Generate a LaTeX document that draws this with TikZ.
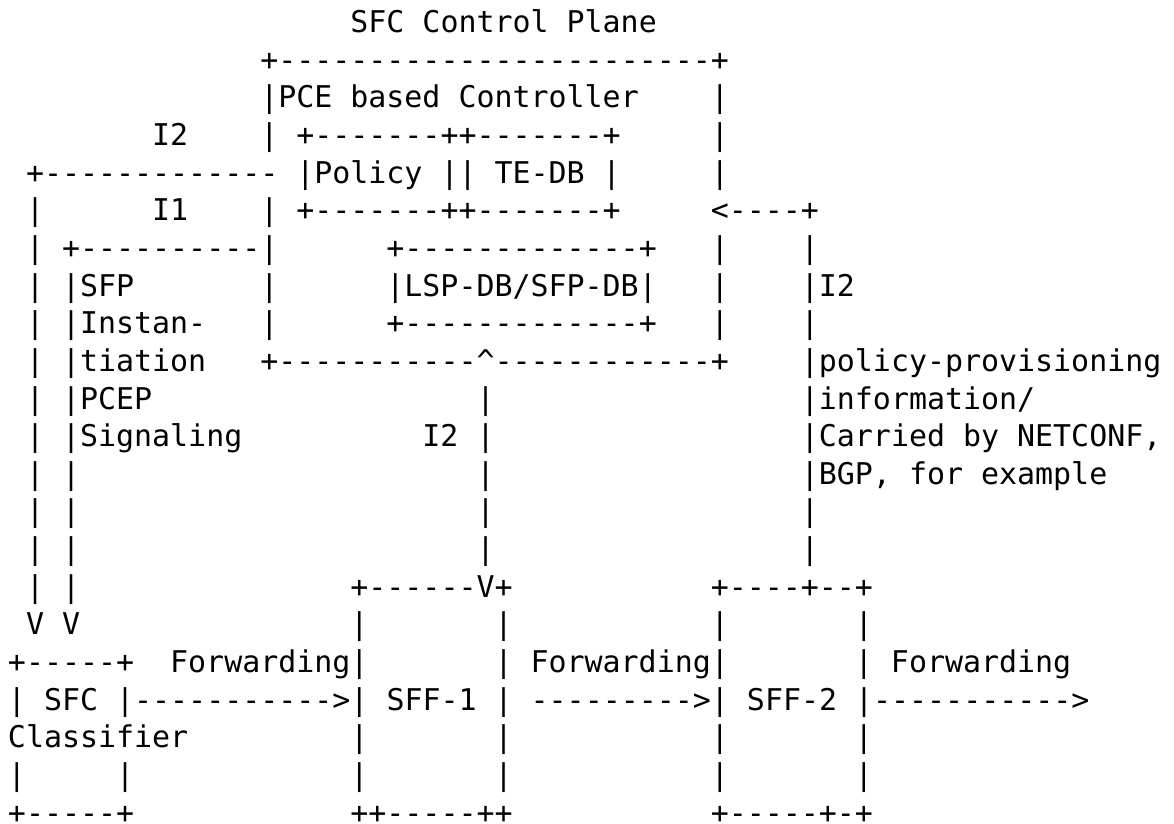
\documentclass[tikz,border=0pt]{standalone}
\usepackage{fontspec}
\setmonofont{DejaVu Sans Mono}
\newcommand\artfont{\ttfamily\fontsize{14.97}{18}\selectfont}
% one run of characters on the character grid: name, column, row, text
\newcommand\art[4]{\node[glyphs] (#1) at ({8+#2*18.02},{32.5+(#3-1)*37.65}) {#4};}
\begin{document}
\begin{tikzpicture}[x=0.5pt,y=-0.5pt,
  glyphs/.style={anchor=base west,inner sep=0pt,outer sep=0pt,font=\artfont,text=black}]
\fill[white] (0,0) rectangle (1174,824);
\useasboundingbox (0,0) rectangle (1174,824);

% control plane
\art{title}{19}{1}{SFC Control Plane}
\art{ctlTop}{14}{2}{+------------------------+}
\art{ctlName}{14}{3}{|PCE based Controller}
\art{ctlR3}{39}{3}{|}
\art{iTwoA}{8}{4}{I2}
\art{ctlL4}{14}{4}{|}
\art{dbTop}{16}{4}{+-------++-------+}
\art{ctlR4}{39}{4}{|}
\art{iTwoLine}{1}{5}{+-------------}
\art{dbMid}{16}{5}{|Policy || TE-DB |}
\art{ctlR5}{39}{5}{|}
\art{leftA6}{1}{6}{|}
\art{iOne}{8}{6}{I1}
\art{ctlL6}{14}{6}{|}
\art{dbBot}{16}{6}{+-------++-------+}
\art{inArrow}{39}{6}{<----+}
\art{leftA7}{1}{7}{|}
\art{iOneLine}{3}{7}{+----------|}
\art{lspTop}{21}{7}{+-------------+}
\art{ctlR7}{39}{7}{|}
\art{rightV7}{44}{7}{|}
\art{leftA8}{1}{8}{|}
\art{sfpA}{3}{8}{|SFP}
\art{ctlL8}{14}{8}{|}
\art{lspMid}{21}{8}{|LSP-DB/SFP-DB|}
\art{ctlR8}{39}{8}{|}
\art{iTwoC}{44}{8}{|I2}
\art{leftA9}{1}{9}{|}
\art{sfpB}{3}{9}{|Instan-}
\art{ctlL9}{14}{9}{|}
\art{lspBot}{21}{9}{+-------------+}
\art{ctlR9}{39}{9}{|}
\art{rightV9}{44}{9}{|}
\art{leftA10}{1}{10}{|}
\art{sfpC}{3}{10}{|tiation}
\art{ctlBot}{14}{10}{+-----------\textasciicircum------------+}
\art{infoA}{44}{10}{|policy-provisioning}

% vertical links
\art{leftA11}{1}{11}{|}
\art{sfpD}{3}{11}{|PCEP}
\art{midV11}{26}{11}{|}
\art{infoB}{44}{11}{|information/}
\art{leftA12}{1}{12}{|}
\art{sfpE}{3}{12}{|Signaling}
\art{iTwoB}{23}{12}{I2}
\art{midV12}{26}{12}{|}
\art{infoC}{44}{12}{|Carried by NETCONF,}
\art{leftA13}{1}{13}{|}
\art{leftB13}{3}{13}{|}
\art{midV13}{26}{13}{|}
\art{infoD}{44}{13}{|BGP, for example}
\art{leftA14}{1}{14}{|}
\art{leftB14}{3}{14}{|}
\art{midV14}{26}{14}{|}
\art{rightV14}{44}{14}{|}
\art{leftA15}{1}{15}{|}
\art{leftB15}{3}{15}{|}
\art{midV15}{26}{15}{|}
\art{rightV15}{44}{15}{|}
\art{leftA16}{1}{16}{|}
\art{leftB16}{3}{16}{|}
\art{sffOneTop}{19}{16}{+------V+}
\art{sffTwoTop}{39}{16}{+----+--+}
\art{tipA}{1}{17}{V}
\art{tipB}{3}{17}{V}

% data plane
\art{sffOneL17}{19}{17}{|}
\art{sffOneR17}{27}{17}{|}
\art{sffTwoL17}{39}{17}{|}
\art{sffTwoR17}{47}{17}{|}
\art{clsTop}{0}{18}{+-----+}
\art{fwdA}{9}{18}{Forwarding|}
\art{fwdB}{27}{18}{| Forwarding|}
\art{fwdC}{47}{18}{| Forwarding}
\art{chain}{0}{19}{| SFC |----------->| SFF-1 | --------->| SFF-2 |----------->}
\art{clsName}{0}{20}{Classifier}
\art{sffOneL20}{19}{20}{|}
\art{sffOneR20}{27}{20}{|}
\art{sffTwoL20}{39}{20}{|}
\art{sffTwoR20}{47}{20}{|}
\art{clsL21}{0}{21}{|}
\art{clsR21}{6}{21}{|}
\art{sffOneL21}{19}{21}{|}
\art{sffOneR21}{27}{21}{|}
\art{sffTwoL21}{39}{21}{|}
\art{sffTwoR21}{47}{21}{|}
\art{clsBot}{0}{22}{+-----+}
\art{sffOneBot}{19}{22}{++-----++}
\art{sffTwoBot}{39}{22}{+-----+-+}
\end{tikzpicture}
\end{document}
